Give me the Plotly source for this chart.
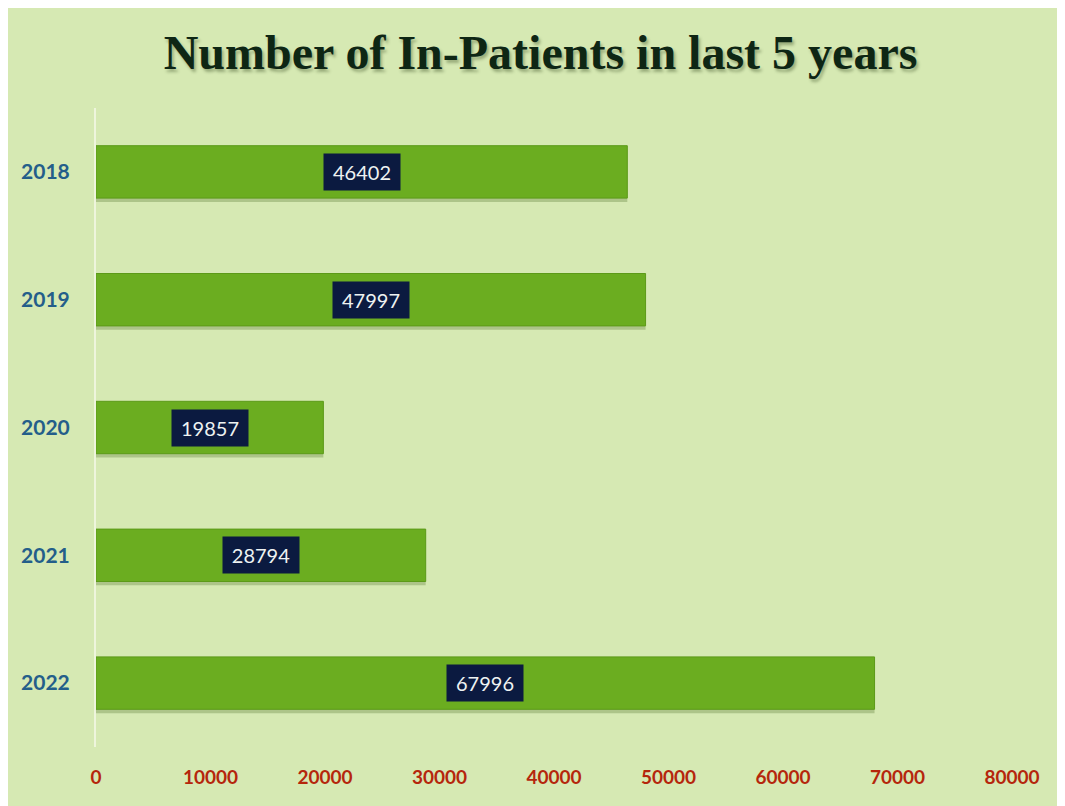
import plotly.graph_objects as go

years = ["2018", "2019", "2020", "2021", "2022"]
patients = [46402, 47997, 19857, 28794, 67996]
x_ticks = [0, 10000, 20000, 30000, 40000, 50000, 60000, 70000, 80000]
title_text = "Number of In-Patients in last 5 years"

pos = list(range(len(years)))
bar_w = 0.41

fig = go.Figure()
# soft drop shadow under each bar
fig.add_trace(go.Bar(
    y=pos, x=patients, orientation="h",
    width=bar_w, offset=-bar_w / 2 + 0.03,
    marker=dict(color="rgba(70,100,30,0.28)", line=dict(width=0)),
    hoverinfo="skip",
))
fig.add_trace(go.Bar(
    y=pos, x=patients, orientation="h",
    width=bar_w, offset=-bar_w / 2,
    marker=dict(color="#6bad20", line=dict(color="#5c9a18", width=1)),
    customdata=years, hovertemplate="%{customdata}: %{x}<extra></extra>",
))

for p, v in zip(pos, patients):
    fig.add_annotation(
        x=v / 2, y=p, xref="x", yref="y", text=str(v), showarrow=False,
        font=dict(family="Lato, Open Sans, sans-serif", size=20, color="#eef2f2"),
        bgcolor="#0b1a40", borderpad=6, width=64,
    )

fig.update_layout(
    width=1065, height=806,
    barmode="overlay",
    paper_bgcolor="#d6e9b3", plot_bgcolor="#d6e9b3",
    margin=dict(l=88, r=61, t=100, b=67),
    title=dict(text=title_text, x=0.5, xanchor="center", y=0.945, yanchor="middle",
               font=dict(family="Liberation Serif, Times New Roman, serif", size=48,
                         color="#0e2614", weight="bold",
                         shadow="2px 3px 3px rgba(40,60,20,0.35)")),
    showlegend=False,
    xaxis=dict(range=[0, 80000], tickvals=x_ticks, ticktext=[str(t) for t in x_ticks],
               showgrid=False, zeroline=False, showline=False,
               tickfont=dict(family="Lato, sans-serif", size=19, color="#b5260c", weight="bold"),
               ticklabelstandoff=17),
    yaxis=dict(range=[len(years) - 0.5, -0.5], tickvals=pos, ticktext=years,
               showgrid=False, zeroline=False,
               showline=True, linecolor="#eef5dc", linewidth=2,
               tickfont=dict(family="Lato, sans-serif", size=21, color="#245e8a", weight="bold"),
               ticklabelstandoff=20),
)

fig.write_html("out.html")
